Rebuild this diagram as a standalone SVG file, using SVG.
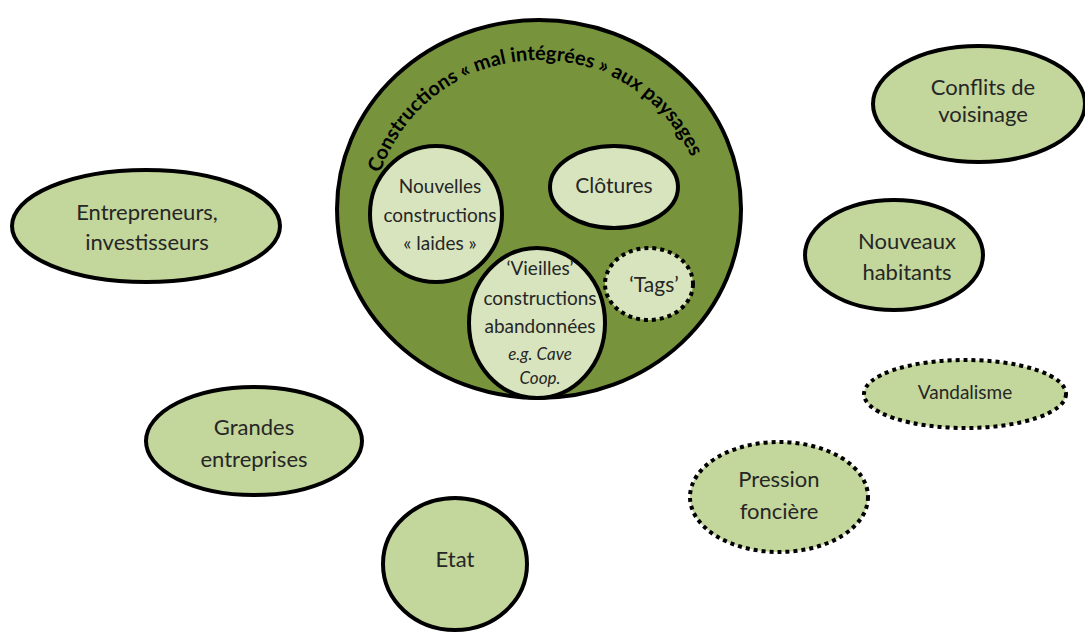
<svg xmlns="http://www.w3.org/2000/svg" width="1085" height="632" viewBox="0 0 1085 632">
<style>
.big{fill:#77933C;stroke:#000;stroke-width:4}
.inner{fill:#D7E4BD;stroke:#000;stroke-width:4}
.outer{fill:#C3D69B;stroke:#000;stroke-width:4}
.dot{stroke-dasharray:4 4}
text{font-family:Lato,"Open Sans","DejaVu Sans",sans-serif;fill:#262626;text-anchor:middle}
.t22{font-size:22px}
.t21{font-size:21px}
.t19{font-size:19px}
.it{font-style:italic;font-size:17px}
.title{font-size:20px;font-weight:bold;fill:#000}
</style>
<defs>
<path id="arc" d="M 371 228 A 168 168 0 0 1 707 228"/>
</defs>
<rect width="1085" height="632" fill="#fff"/>
<g id="connectors"/>
<g id="n-main">
<ellipse class="big" cx="539" cy="209" rx="202" ry="189"/>
<text class="title"><textPath href="#arc" startOffset="255">Constructions « mal intégrées » aux paysages</textPath></text>
</g>
<g id="n-nouvelles">
<ellipse class="inner" cx="436" cy="214" rx="66" ry="68"/>
<text class="t19" x="440" y="193">Nouvelles</text>
<text class="t19" x="440" y="222">constructions</text>
<text class="t19" x="440" y="250">« laides »</text>
</g>
<g id="n-clotures">
<ellipse class="inner" cx="614" cy="187" rx="64" ry="41"/>
<text class="t21" x="614" y="193">Clôtures</text>
</g>
<g id="n-vieilles">
<ellipse class="inner" cx="537" cy="323" rx="68" ry="75"/>
<text class="t19" x="540" y="275">‘Vieilles’</text>
<text class="t19" x="540" y="305">constructions</text>
<text class="t19" x="540" y="333">abandonnées</text>
<text class="it" x="540" y="360">e.g. Cave</text>
<text class="it" x="540" y="384">Coop.</text>
</g>
<g id="n-tags">
<ellipse class="inner dot" cx="649" cy="284" rx="44" ry="36"/>
<text class="t21" x="654" y="292">‘Tags’</text>
</g>
<g id="n-entrepreneurs">
<ellipse class="outer" cx="146" cy="226" rx="134" ry="56"/>
<text class="t22" x="147" y="220">Entrepreneurs,</text>
<text class="t22" x="147" y="250">investisseurs</text>
</g>
<g id="n-grandes">
<ellipse class="outer" cx="254" cy="441" rx="108" ry="54"/>
<text class="t22" x="254" y="435">Grandes</text>
<text class="t22" x="254" y="467">entreprises</text>
</g>
<g id="n-etat">
<ellipse class="outer" cx="455" cy="564" rx="72" ry="66"/>
<text class="t22" x="455" y="567">Etat</text>
</g>
<g id="n-conflits">
<ellipse class="outer" cx="979" cy="104" rx="106" ry="58"/>
<text class="t22" x="983" y="95">Conflits de</text>
<text class="t22" x="983" y="122">voisinage</text>
</g>
<g id="n-nouveaux">
<ellipse class="outer" cx="894" cy="255" rx="89" ry="55"/>
<text class="t22" x="907" y="249">Nouveaux</text>
<text class="t22" x="907" y="280">habitants</text>
</g>
<g id="n-vandalisme">
<ellipse class="outer dot" cx="965" cy="394" rx="101" ry="34"/>
<text class="t19" x="965" y="399">Vandalisme</text>
</g>
<g id="n-pression">
<ellipse class="outer dot" cx="779" cy="497" rx="89" ry="55"/>
<text class="t22" x="779" y="487">Pression</text>
<text class="t22" x="779" y="519">foncière</text>
</g>
</svg>
